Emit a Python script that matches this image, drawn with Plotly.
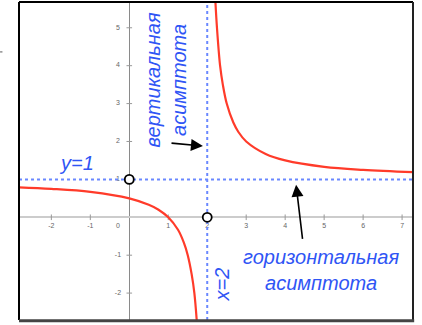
import plotly.graph_objects as go

# Hyperbola branches
left_x = [-2.83, -2.0, -1.0, 0.0, 0.5, 0.75, 1.0, 1.25, 1.4, 1.5, 1.6, 1.67, 1.73]
left_y = [0.79, 0.75, 0.67, 0.50, 0.33, 0.20, 0.0, -0.33, -0.67, -1.0, -1.5, -2.0, -2.71]
right_x = [2.21, 2.25, 2.33, 2.4, 2.5, 2.67, 2.8, 3.0, 3.5, 4.0, 5.0, 6.0, 7.28]
right_y = [5.68, 5.0, 4.0, 3.5, 3.0, 2.5, 2.25, 2.0, 1.67, 1.5, 1.33, 1.25, 1.19]

# Asymptotes
vert_asym_x = 2
horiz_asym_y = 1

# Excluded (hollow) points
hollow_x = [0, 2]
hollow_y = [1, 0]

# Axis ranges and tick labels
x_range = [-2.83, 7.28]
y_range = [-2.71, 5.68]
x_ticks = [-2, -1, 1, 2, 3, 4, 5, 6, 7]
y_ticks = [-2, -1, 1, 2, 3, 4, 5]

BLUE_TEXT = "#2f55f5"
BLUE_LINE = "#6a88ff"
RED = "#ff3b2a"
FONT = "Liberation Sans, Arial, sans-serif"
TICK_FONT = dict(size=7, color="#666666", family=FONT)

# offsets of the tick labels from the axes (data units)
x_label_dy = -0.23
y_label_dx = -0.29

fig = go.Figure()

# tick marks on the axes
fig.add_trace(go.Scatter(
    x=x_ticks, y=[0] * len(x_ticks), mode="markers",
    marker=dict(symbol="line-ns", size=4, line=dict(width=1, color="#999999")),
    hoverinfo="skip", showlegend=False))
fig.add_trace(go.Scatter(
    x=[0] * len(y_ticks), y=y_ticks, mode="markers",
    marker=dict(symbol="line-ew", size=4, line=dict(width=1, color="#999999")),
    hoverinfo="skip", showlegend=False))

# tick labels placed next to the axes
fig.add_trace(go.Scatter(
    x=x_ticks + [y_label_dx], y=[x_label_dy] * (len(x_ticks) + 1), mode="text",
    text=[str(v) for v in x_ticks] + ["0"],
    textfont=TICK_FONT, textposition="middle center",
    hoverinfo="skip", showlegend=False))
fig.add_trace(go.Scatter(
    x=[y_label_dx] * len(y_ticks), y=y_ticks, mode="text",
    text=[str(v) for v in y_ticks],
    textfont=TICK_FONT, textposition="middle center",
    hoverinfo="skip", showlegend=False))

# dashed asymptotes
fig.add_trace(go.Scatter(
    x=x_range, y=[horiz_asym_y, horiz_asym_y], mode="lines",
    line=dict(color=BLUE_LINE, width=2, dash="3px,3px"),
    hoverinfo="skip", showlegend=False))
fig.add_trace(go.Scatter(
    x=[vert_asym_x, vert_asym_x], y=y_range, mode="lines",
    line=dict(color=BLUE_LINE, width=2, dash="3px,3px"),
    hoverinfo="skip", showlegend=False))

# curve branches
for bx, by in ((left_x, left_y), (right_x, right_y)):
    fig.add_trace(go.Scatter(
        x=bx, y=by, mode="lines",
        line=dict(color=RED, width=2.2, shape="spline", smoothing=1.0),
        hoverinfo="skip", showlegend=False))

# hollow points
fig.add_trace(go.Scatter(
    x=hollow_x, y=hollow_y, mode="markers",
    marker=dict(symbol="circle", size=9, color="white",
                line=dict(color="black", width=1.8)),
    hoverinfo="skip", showlegend=False))

label_font = dict(family=FONT, size=20, color=BLUE_TEXT)

annotations = [
    dict(x=0.95, y=3.62, text="<i>вертикальная<br>асимптота</i>", textangle=-90,
         showarrow=False, font=label_font, xanchor="center", yanchor="middle"),
    dict(x=4.92, y=-1.39, text="<i>горизонтальная<br>асимптота</i>",
         showarrow=False, font=label_font, xanchor="center", yanchor="middle"),
    dict(x=-1.35, y=1.44, text="<i>y=1</i>", showarrow=False, font=label_font,
         xanchor="center", yanchor="middle"),
    dict(x=2.39, y=-1.76, text="<i>x=2</i>", textangle=-90, showarrow=False,
         font=label_font, xanchor="center", yanchor="middle"),
    # arrows
    dict(x=1.89, y=1.88, ax=1.045, ay=1.96, axref="x", ayref="y", text="",
         showarrow=True, arrowhead=2, arrowsize=1.5, arrowwidth=1.6,
         arrowcolor="black", standoff=0, startstandoff=0),
    dict(x=4.28, y=0.86, ax=4.45, ay=-0.61, axref="x", ayref="y", text="",
         showarrow=True, arrowhead=2, arrowsize=1.5, arrowwidth=1.6,
         arrowcolor="black", standoff=0, startstandoff=0),
]

shapes = [
    # frame around the plotting area
    dict(type="line", xref="paper", yref="paper", x0=0, x1=0, y0=0, y1=1,
         line=dict(color="black", width=2)),
    dict(type="line", xref="paper", yref="paper", x0=0, x1=1, y0=1, y1=1,
         line=dict(color="black", width=2)),
    dict(type="line", xref="paper", yref="paper", x0=1, x1=1, y0=0, y1=1,
         line=dict(color="#222222", width=2)),
    dict(type="line", xref="paper", yref="paper", x0=0, x1=1.003, y0=-0.002, y1=-0.002,
         line=dict(color="#444444", width=3)),
    # small stray mark at the left margin
    dict(type="line", xref="paper", yref="paper", x0=-0.048, x1=-0.042, y0=0.843, y1=0.843,
         line=dict(color="#555555", width=1)),
]

fig.update_layout(
    width=422, height=325,
    margin=dict(l=19, r=9, t=2, b=5),
    paper_bgcolor="white", plot_bgcolor="white",
    showlegend=False,
    xaxis=dict(range=x_range, showgrid=False, showticklabels=False, ticks="",
               zeroline=True, zerolinecolor="#8a8a8a", zerolinewidth=1,
               fixedrange=True),
    yaxis=dict(range=y_range, showgrid=False, showticklabels=False, ticks="",
               zeroline=True, zerolinecolor="#cccccc", zerolinewidth=2,
               fixedrange=True),
    annotations=annotations,
    shapes=shapes,
)

fig.write_html("out.html", config={"displayModeBar": False})
